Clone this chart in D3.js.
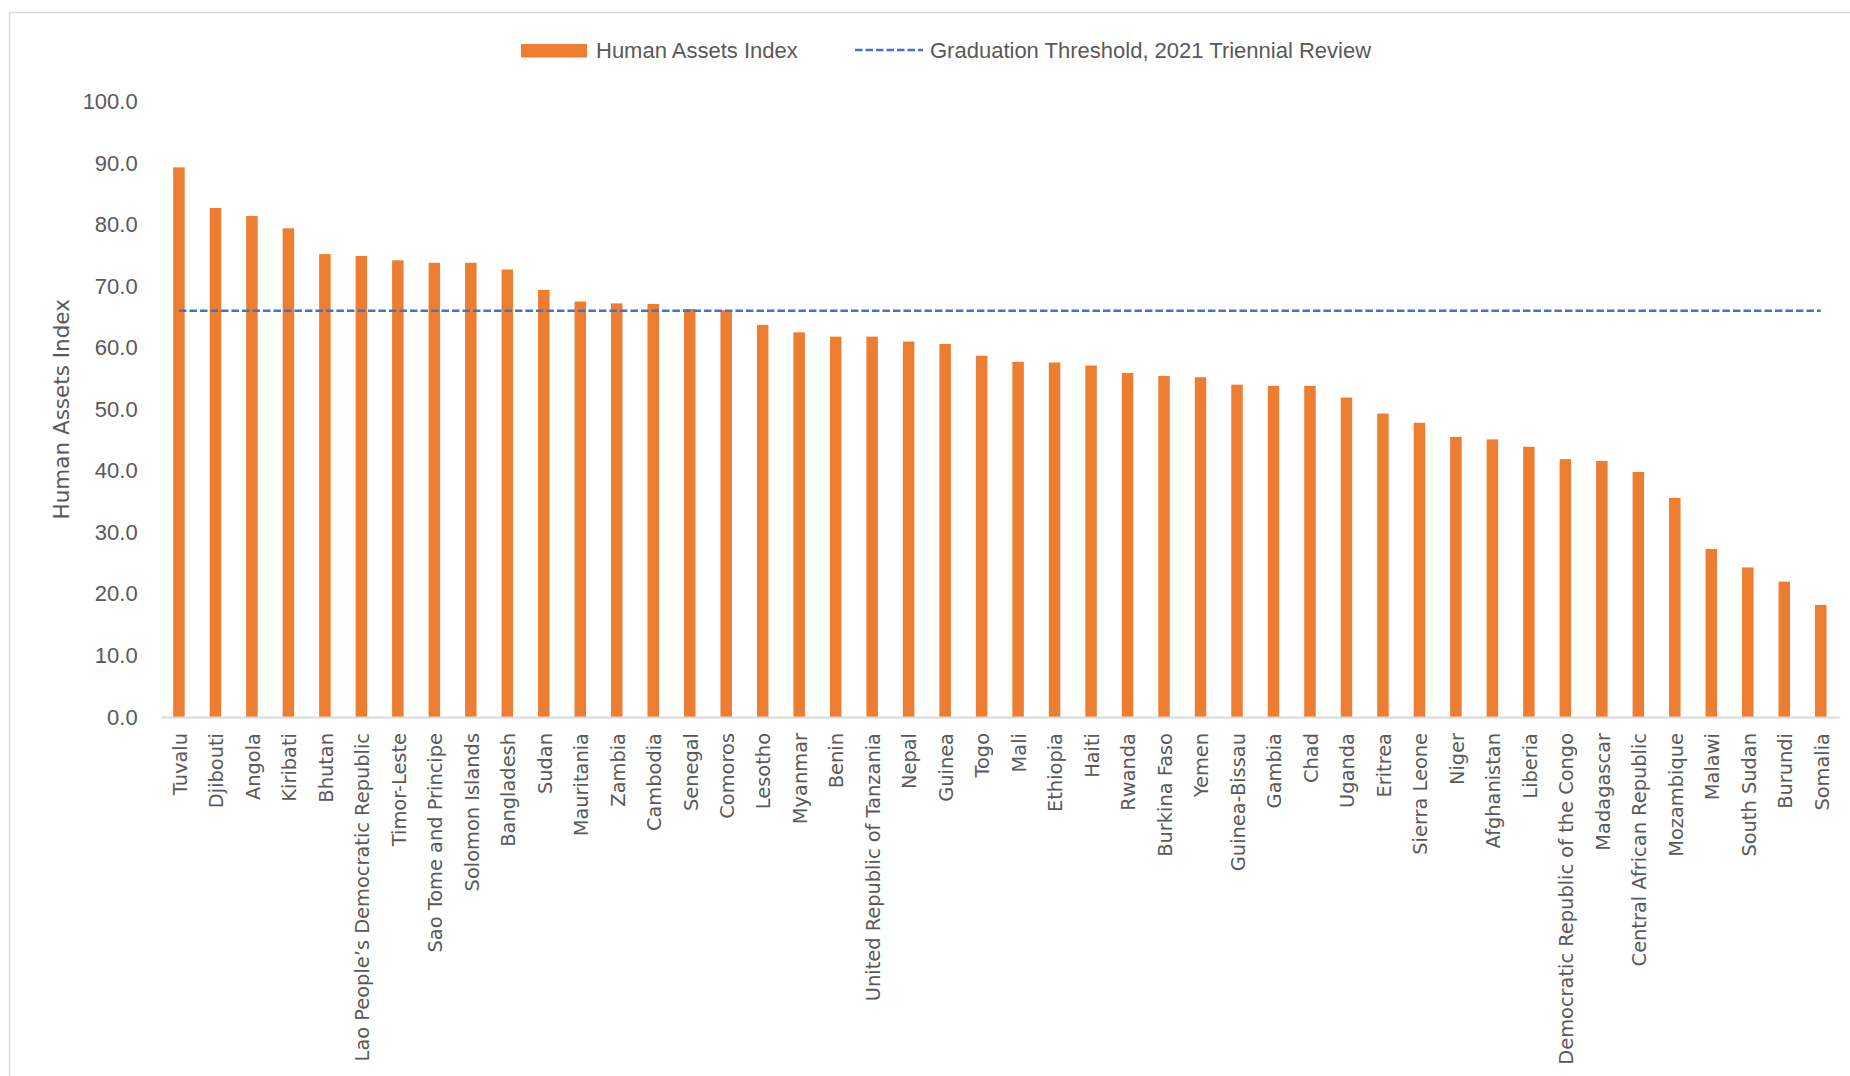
<!DOCTYPE html>
<html>
<head>
<meta charset="utf-8">
<script src="https://cdn.jsdelivr.net/npm/d3@7"></script>
<style>
  html, body { margin: 0; padding: 0; background: #ffffff; }
  svg { display: block; }
</style>
</head>
<body>
<svg id="chart" width="1850" height="1076"></svg>
<script>
const categories = [
  "Tuvalu", "Djibouti", "Angola", "Kiribati", "Bhutan",
  "Lao People\u2019s Democratic Republic", "Timor-Leste", "Sao Tome and Principe",
  "Solomon Islands", "Bangladesh", "Sudan", "Mauritania", "Zambia", "Cambodia",
  "Senegal", "Comoros", "Lesotho", "Myanmar", "Benin",
  "United Republic of Tanzania", "Nepal", "Guinea", "Togo", "Mali", "Ethiopia",
  "Haiti", "Rwanda", "Burkina Faso", "Yemen", "Guinea-Bissau", "Gambia", "Chad",
  "Uganda", "Eritrea", "Sierra Leone", "Niger", "Afghanistan", "Liberia",
  "Democratic Republic of the Congo", "Madagascar", "Central African Republic",
  "Mozambique", "Malawi", "South Sudan", "Burundi", "Somalia"
];
const haiValues = [
  89.3, 82.7, 81.4, 79.4, 75.2,
  74.9, 74.2, 73.8,
  73.8, 72.7, 69.4, 67.5, 67.2, 67.1,
  66.3, 66.1, 63.7, 62.5, 61.8,
  61.8, 61.0, 60.6, 58.7, 57.7, 57.6,
  57.1, 55.9, 55.4, 55.2, 54.0, 53.8, 53.8,
  51.9, 49.3, 47.8, 45.5, 45.1, 43.9,
  41.9, 41.6, 39.8,
  35.6, 27.3, 24.3, 22.0, 18.2
];
const threshold = 66.0;
const yTicks = [0, 10, 20, 30, 40, 50, 60, 70, 80, 90, 100];
const seriesNames = ["Human Assets Index", "Graduation Threshold, 2021 Triennial Review"];
const yTitle = "Human Assets Index";

const svg = d3.select("#chart");
const textColor = "#595959";
const barColor = "#ED7D31";
const lineColor = "#4472C4";
const labelFont = "'Liberation Sans', Arial, sans-serif";
const catFont = "'DejaVu Sans', Verdana, sans-serif";

// outer chart border
svg.append("rect")
  .attr("x", 9.5).attr("y", 12.5)
  .attr("width", 1900).attr("height", 1100)
  .attr("fill", "none").attr("stroke", "#d9d9d9").attr("stroke-width", 1.5);

const plotL = 160.7, plotR = 1839, plotT = 101.5, plotB = 717;

const x = d3.scaleBand().domain(categories).range([plotL, plotR])
  .paddingInner(0.685).paddingOuter(0.3425);
const y = d3.scaleLinear().domain([0, 100]).range([plotB, plotT]);

// bars
svg.append("g").selectAll("rect")
  .data(categories.map((c, i) => ({ c, v: haiValues[i] })))
  .join("rect")
  .attr("x", d => x(d.c))
  .attr("y", d => y(d.v))
  .attr("width", x.bandwidth())
  .attr("height", d => y(0) - y(d.v))
  .attr("fill", barColor);

// y axis
const yAxis = svg.append("g")
  .attr("transform", `translate(${plotL},0)`)
  .call(d3.axisLeft(y).tickValues(yTicks).tickFormat(d3.format(".1f")).tickSize(0).tickPadding(23));
yAxis.select(".domain").remove();
yAxis.selectAll("text")
  .attr("fill", textColor)
  .style("font-family", labelFont)
  .style("font-size", "22px");

// x axis
const xAxis = svg.append("g")
  .attr("transform", `translate(0,${plotB})`)
  .call(d3.axisBottom(x).tickSize(0));
xAxis.select(".domain").attr("stroke", "#d9d9d9").attr("stroke-width", 2);
xAxis.selectAll("text")
  .attr("transform", "rotate(-90)")
  .attr("x", -16)
  .attr("y", 1)
  .attr("dy", "0.35em")
  .attr("text-anchor", "end")
  .attr("fill", textColor)
  .style("font-family", catFont)
  .style("font-size", "19.4px");

// threshold line
const first = categories[0], last = categories[categories.length - 1];
svg.append("line")
  .attr("x1", x(first) + x.bandwidth() / 2)
  .attr("x2", x(last) + x.bandwidth() / 2)
  .attr("y1", y(threshold)).attr("y2", y(threshold))
  .attr("stroke", lineColor).attr("stroke-width", 2.6)
  .attr("stroke-dasharray", "7.5,3");

// y title
svg.append("text")
  .attr("transform", `translate(61,${(plotT + plotB) / 2}) rotate(-90)`)
  .attr("text-anchor", "middle")
  .attr("dy", "0.35em")
  .attr("fill", textColor)
  .style("font-family", catFont)
  .style("font-size", "21.5px")
  .text(yTitle);

// legend
const legend = svg.append("g");
legend.append("rect")
  .attr("x", 521).attr("y", 44).attr("width", 66).attr("height", 13.5)
  .attr("fill", barColor);
legend.append("text")
  .attr("x", 596).attr("y", 50).attr("dy", "0.35em")
  .attr("fill", textColor)
  .style("font-family", labelFont).style("font-size", "22px")
  .text(seriesNames[0]);
legend.append("line")
  .attr("x1", 855).attr("x2", 923).attr("y1", 50).attr("y2", 50)
  .attr("stroke", lineColor).attr("stroke-width", 2.6)
  .attr("stroke-dasharray", "7.5,3");
legend.append("text")
  .attr("x", 930).attr("y", 50).attr("dy", "0.35em")
  .attr("fill", textColor)
  .style("font-family", labelFont).style("font-size", "22px")
  .text(seriesNames[1]);
</script>
</body>
</html>
